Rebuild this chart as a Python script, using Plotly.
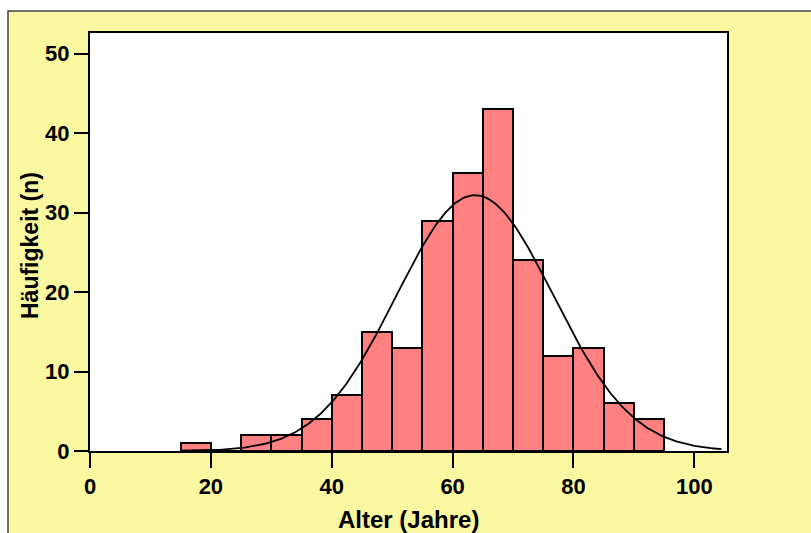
import numpy as np
import plotly.graph_objects as go

# Data
bin_left = [15, 20, 25, 30, 35, 40, 45, 50, 55, 60, 65, 70, 75, 80, 85, 90]
counts = [1, 0, 2, 2, 4, 7, 15, 13, 29, 35, 43, 24, 12, 13, 6, 4]
bin_width = 5
x_ticks = [0, 20, 40, 60, 80, 100]
y_ticks = [0, 10, 20, 30, 40, 50]
x_title = "Alter (Jahre)"
y_title = "Häufigkeit (n)"

W, H = 811, 533
L, R, T, B = 90, 727, 33, 451  # plot area in window pixels
ml, mt = L, T
mr, mb = W - R, H - B
pw, ph = R - L, B - T

mids = np.array(bin_left) + bin_width / 2
cnt = np.array(counts)
n = cnt.sum()
mean = (mids * cnt).sum() / n
sd = np.sqrt(((mids - mean) ** 2 * cnt).sum() / (n - 1))
xc = np.linspace(15, 104.5, 300)
yc = n * bin_width / (sd * np.sqrt(2 * np.pi)) * np.exp(-0.5 * ((xc - mean) / sd) ** 2)

fig = go.Figure()
fig.add_trace(go.Bar(x=mids, y=counts, width=bin_width,
                     marker=dict(color="#FF8080", line=dict(color="black", width=2)),
                     hoverinfo="skip"))
fig.add_trace(go.Scatter(x=xc, y=yc, mode="lines", line=dict(color="black", width=1.8),
                         hoverinfo="skip"))

def px2paper_x(p):
    return (p - L) / pw

def px2paper_y(p):
    return 1 - (p - T) / ph

font_fam = "Liberation Sans, Arial, sans-serif"
fig.update_layout(
    width=W, height=H,
    margin=dict(l=ml, r=mr, t=mt, b=mb, autoexpand=False),
    paper_bgcolor="white",
    plot_bgcolor="white",
    showlegend=False,
    bargap=0,
    font=dict(family=font_fam, color="black"),
    shapes=[
        dict(type="rect", xref="paper", yref="paper", layer="below",
             x0=px2paper_x(8), x1=px2paper_x(W + 20),
             y0=px2paper_y(H + 20), y1=px2paper_y(11),
             fillcolor="#F9F79F", line=dict(color="#444444", width=1.5)),
        dict(type="rect", xref="paper", yref="paper", layer="below",
             x0=0, x1=1, y0=0, y1=1, fillcolor="white", line=dict(width=0)),
    ],
    annotations=[
        dict(text=f"<b>{x_title}</b>", xref="paper", yref="paper",
             x=0.5, y=px2paper_y(519), showarrow=False,
             font=dict(size=24, family=font_fam), xanchor="center", yanchor="middle"),
        dict(text=f"<b>{y_title}</b>", xref="paper", yref="paper",
             x=px2paper_x(30), y=px2paper_y(245), showarrow=False, textangle=-90,
             font=dict(size=23, family=font_fam), xanchor="center", yanchor="middle"),
    ],
)
fig.update_xaxes(range=[0, 105.4], tickvals=x_ticks, ticktext=[f"<b>{v}</b>" for v in x_ticks],
                 ticks="outside", ticklen=15, tickwidth=2, tickcolor="black",
                 showline=True, linecolor="black", linewidth=2, mirror=True,
                 showgrid=False, zeroline=False, automargin=False,
                 tickfont=dict(size=22, family=font_fam, color="black"))
fig.update_yaxes(range=[0, 52.6], tickvals=y_ticks, ticktext=[f"<b>{v}</b>" for v in y_ticks],
                 ticks="outside", ticklen=14, tickwidth=2, tickcolor="black",
                 showline=True, linecolor="black", linewidth=2, mirror=True,
                 showgrid=False, zeroline=False, automargin=False,
                 tickfont=dict(size=22, family=font_fam, color="black"))

fig.write_html("out.html", config={"displayModeBar": False},
               post_script="document.body.style.margin='0';document.body.style.overflow='hidden';")
